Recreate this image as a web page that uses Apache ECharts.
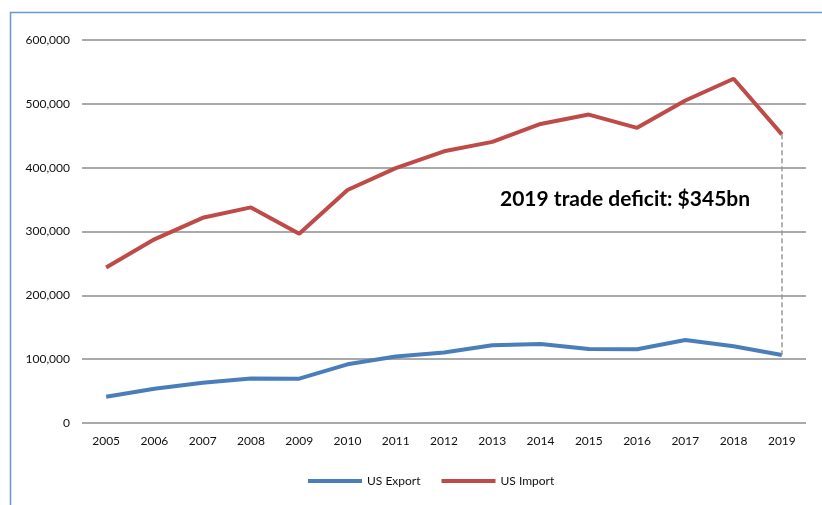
<!DOCTYPE html>
<html>
<head>
<meta charset="utf-8">
<script src="https://cdn.jsdelivr.net/npm/echarts@6/dist/echarts.min.js"></script>
<style>html,body{margin:0;padding:0;background:#fff;}#c{width:822px;height:505px;}</style>
</head>
<body>
<div id="c"></div>
<script>
const years = ['2005','2006','2007','2008','2009','2010','2011','2012','2013','2014','2015','2016','2017','2018','2019'];
const usExport = [41192, 53673, 62937, 69733, 69497, 91911, 104122, 110517, 121746, 123657, 115873, 115595, 129894, 120148, 106448];
const usImport = [243470, 287774, 321443, 337773, 296374, 364953, 399371, 425619, 440430, 468475, 483202, 462420, 505165, 539243, 452243];
const yTicks = [0, 100000, 200000, 300000, 400000, 500000, 600000];
const annotation = '2019 trade deficit: $345bn';
const last = years.length - 1;

const font = 'Lato, "Open Sans", sans-serif';
const chart = echarts.init(document.getElementById('c'));
chart.setOption({
  animation: false,
  backgroundColor: '#fff',
  textStyle: { fontFamily: font },
  grid: { left: 82, right: 16, top: 40, bottom: 82, containLabel: false },
  legend: {
    bottom: 13, left: 303,
    itemWidth: 54, itemHeight: 4, itemGap: 21,
    textStyle: { fontSize: 12, color: '#111', fontFamily: font },
    data: [{ name: 'US Export', icon: 'rect' }, { name: 'US Import', icon: 'rect' }]
  },
  xAxis: {
    type: 'category', data: years, boundaryGap: true,
    axisLine: { show: false }, axisTick: { show: false },
    axisLabel: { color: '#111', fontSize: 12, margin: 12, fontFamily: font }
  },
  yAxis: {
    type: 'value', min: 0, max: yTicks[yTicks.length - 1], interval: yTicks[1] - yTicks[0],
    axisLine: { show: false }, axisTick: { show: false },
    axisLabel: { color: '#111', fontSize: 12, margin: 12, fontFamily: font,
      formatter: v => v.toLocaleString('en-US') },
    splitLine: { lineStyle: { color: '#8c8c8c', width: 1.5 } }
  },
  series: [
    { name: 'US Export', type: 'line', data: usExport, symbol: 'none',
      lineStyle: { color: '#4a7ebb', width: 4 }, itemStyle: { color: '#4a7ebb' } },
    { name: 'US Import', type: 'line', data: usImport, symbol: 'none',
      lineStyle: { color: '#be4b48', width: 4 }, itemStyle: { color: '#be4b48' },
      markLine: {
        silent: true, symbol: ['none', 'none'], label: { show: false },
        lineStyle: { color: '#9a9a9a', type: [5, 3], width: 1.5 },
        data: [[{ coord: [years[last], usImport[last]] }, { coord: [years[last], usExport[last]] }]]
      }
    }
  ],
  graphic: [
    { type: 'rect', left: 8, top: 10, shape: { width: 840, height: 520 },
      style: { fill: 'none', stroke: '#6a97d2', lineWidth: 1.5 }, silent: true },
    { type: 'text', left: 500, top: 189,
      style: { text: annotation, fontSize: 21, fontWeight: 'bold', fill: '#000', fontFamily: font } }
  ]
});
</script>
</body>
</html>
